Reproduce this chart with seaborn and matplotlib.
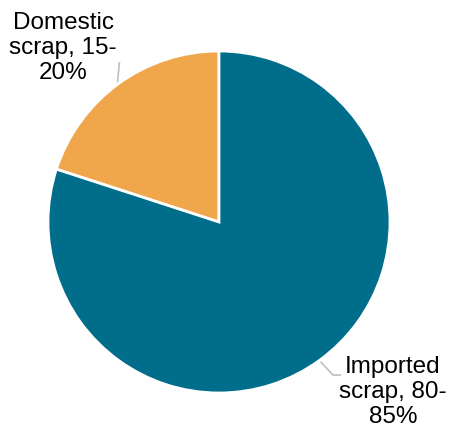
import matplotlib
matplotlib.use("Agg")
import matplotlib.pyplot as plt
import seaborn as sns
import numpy as np

# Scrap sources (share of supply, %)
categories = ["Domestic scrap", "Imported scrap"]
shares = [20, 80]
label_texts = ["Domestic\nscrap, 15-\n20%", "Imported\nscrap, 80-\n85%"]
colors = ["#F0A64B", "#006E8A"]

sns.set_theme(style="white")
plt.rcParams["font.family"] = ["Liberation Sans", "DejaVu Sans"]

fig = plt.figure(figsize=(4.49, 4.32), dpi=100)
ax = fig.add_axes([0, 0, 1, 1])

wedges, _ = ax.pie(
    shares,
    colors=colors,
    startangle=90,
    counterclock=True,
    radius=1.0,
    wedgeprops=dict(edgecolor="white", linewidth=2),
)

R = 171
ax.set_aspect("auto")
ax.set_xlim(-219 / R, (449 - 219) / R)
ax.set_ylim(-210 / R, 222 / R)
ax.axis("off")

# Labels with leader lines from wedge midpoints
label_pos = [(-0.912, 1.018), (1.017, -0.994)]
leader_paths = [
    [(-0.600, 0.818), (-0.582, 0.935)],
    [(0.594, -0.824), (0.667, -0.895), (0.714, -0.895)],
]
for w, txt, (tx, ty), path in zip(wedges, label_texts, label_pos, leader_paths):
    ang = np.deg2rad((w.theta1 + w.theta2) / 2)
    x0, y0 = np.cos(ang) * 1.01, np.sin(ang) * 1.01
    xs = [x0] + [p[0] for p in path[1:]]
    ys = [y0] + [p[1] for p in path[1:]]
    ax.plot(xs, ys, color="#BFBFBF", linewidth=1.2, solid_capstyle="butt")
    ax.text(tx, ty, txt, ha="center", va="center", fontsize=17.5,
            color="black", linespacing=1.17)

fig.savefig("out.png", dpi=100, facecolor="white")
